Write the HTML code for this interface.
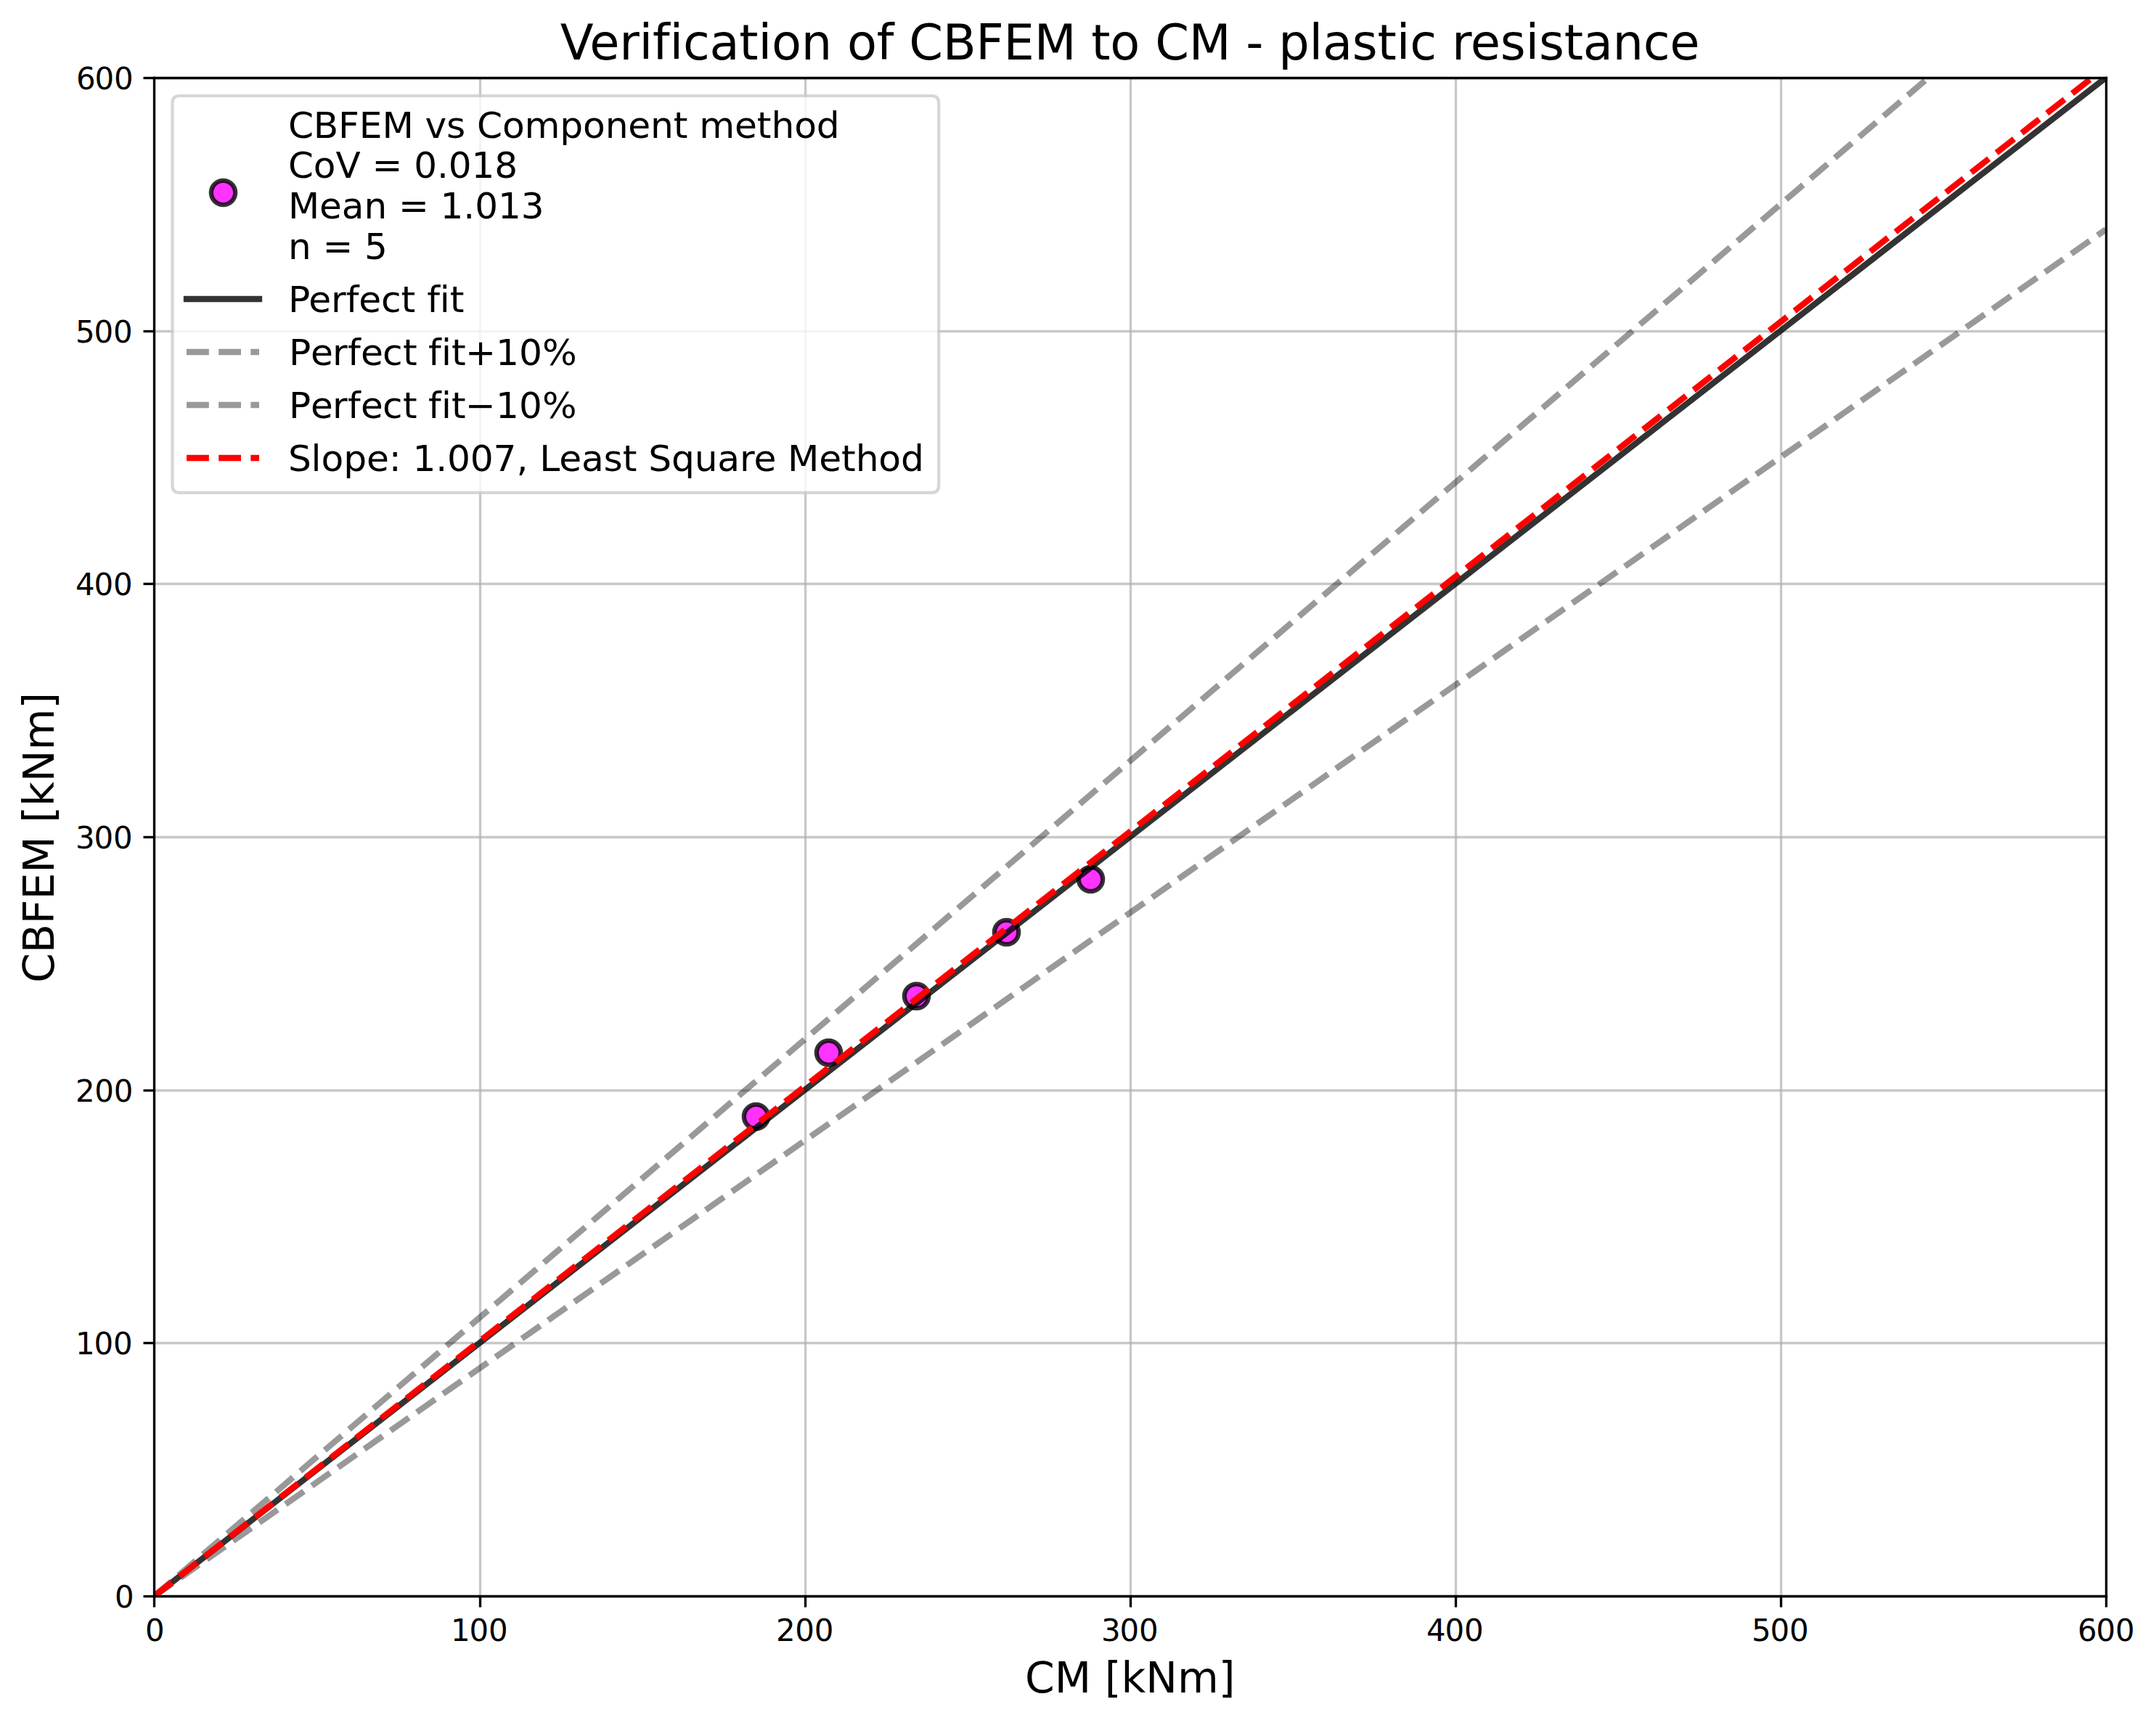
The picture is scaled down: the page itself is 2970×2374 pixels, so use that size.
<!DOCTYPE html>
<html lang="en">
<head>
<meta charset="utf-8">
<title>Verification of CBFEM to CM - plastic resistance</title>
<style>
html, body { margin: 0; padding: 0; background: #ffffff; }
body { width: 2970px; height: 2374px; overflow: hidden; font-family: "DejaVu Sans", "Liberation Sans", sans-serif; }
#chart { position: absolute; left: 0; top: 0; width: 2970px; height: 2374px; overflow: hidden; }
#chart svg { display: block; position: absolute; left: 0; top: 0; }
#chart text { fill: #000000; font-family: "DejaVu Sans", "Liberation Sans", sans-serif; text-anchor: start; white-space: pre; }
</style>
</head>
<body>
<div id="chart">
<svg width="2970.6875" height="2374.0000" viewBox="0 0 712.965 569.76" role="img" aria-label="Verification of CBFEM to CM - plastic resistance">
 <defs>
  <style>#chart svg *{stroke-linejoin: round; stroke-linecap: butt}</style>
 </defs>
 <g id="figure_1">
  <g id="patch_1">
   <path d="M -0 569.76 L 712.965 569.76 L 712.965 0 L -0 0 z
" style="fill: #ffffff"/>
  </g>
  <g id="axes_1">
   <g id="patch_2">
    <path d="M 50.99 527.8 L 696.225 527.8 L 696.225 25.68 L 50.99 25.68 z
" style="fill: #ffffff"/>
   </g>
   <g id="PathCollection_1">
    <defs>
     <path id="mae54f3001f" d="M 0 4 C 1.060812 4 2.078319 3.578535 2.828427 2.828427 C 3.578535 2.078319 4 1.060812 4 0 C 4 -1.060812 3.578535 -2.078319 2.828427 -2.828427 C 2.078319 -3.578535 1.060812 -4 0 -4 C -1.060812 -4 -2.078319 -3.578535 -2.828427 -2.828427 C -3.578535 -2.078319 -4 -1.060812 -4 0 C -4 1.060812 -3.578535 2.078319 -2.828427 2.828427 C -2.078319 3.578535 -1.060812 4 0 4 z
" style="stroke: #000000; stroke-opacity: 0.8; stroke-width: 1.5"/>
    </defs>
    <g clip-path="url(#p0415f621cc)">
     <use href="#mae54f3001f" x="249.96" y="369.24" style="fill: #ff00ff; fill-opacity: 0.8; stroke: #000000; stroke-opacity: 0.8; stroke-width: 1.5"/>
     <use href="#mae54f3001f" x="273.96" y="348.12" style="fill: #ff00ff; fill-opacity: 0.8; stroke: #000000; stroke-opacity: 0.8; stroke-width: 1.5"/>
     <use href="#mae54f3001f" x="303" y="329.4" style="fill: #ff00ff; fill-opacity: 0.8; stroke: #000000; stroke-opacity: 0.8; stroke-width: 1.5"/>
     <use href="#mae54f3001f" x="332.76" y="308.28" style="fill: #ff00ff; fill-opacity: 0.8; stroke: #000000; stroke-opacity: 0.8; stroke-width: 1.5"/>
     <use href="#mae54f3001f" x="360.6" y="290.76" style="fill: #ff00ff; fill-opacity: 0.8; stroke: #000000; stroke-opacity: 0.8; stroke-width: 1.5"/>
    </g>
   </g>
   <g id="matplotlib.axis_1">
    <g id="xtick_1">
     <g id="line2d_1">
      <path d="M 51 527.88 L 51 25.8" clip-path="url(#p0415f621cc)" style="fill: none; stroke: #b0b0b0; stroke-opacity: 0.7; stroke-width: 0.8; stroke-linecap: square"/>
     </g>
     <g id="line2d_2">
      <defs>
       <path id="m1504cfccaf" d="M 0 0 L 0 3.6" style="stroke: #000000; stroke-width: 0.8"/>
      </defs>
      <g>
       <use href="#m1504cfccaf" x="51" y="527.88" style="stroke: #000000; stroke-width: 0.8"/>
      </g>
     </g>
     <g id="text_1">
      <text style="font-size: 10.05px" x="47.99" y="542.72">0</text>
     </g>
    </g>
    <g id="xtick_2">
     <g id="line2d_3">
      <path d="M 158.76 527.88 L 158.76 25.8" clip-path="url(#p0415f621cc)" style="fill: none; stroke: #b0b0b0; stroke-opacity: 0.7; stroke-width: 0.8; stroke-linecap: square"/>
     </g>
     <g id="line2d_4">
      <g>
       <use href="#m1504cfccaf" x="158.76" y="527.88" style="stroke: #000000; stroke-width: 0.8"/>
      </g>
     </g>
     <g id="text_2">
      <text style="font-size: 10.05px" x="149.0492 155.1692 161.5292" y="542.72">100</text>
     </g>
    </g>
    <g id="xtick_3">
     <g id="line2d_5">
      <path d="M 266.28 527.88 L 266.28 25.8" clip-path="url(#p0415f621cc)" style="fill: none; stroke: #b0b0b0; stroke-opacity: 0.7; stroke-width: 0.8; stroke-linecap: square"/>
     </g>
     <g id="line2d_6">
      <g>
       <use href="#m1504cfccaf" x="266.28" y="527.88" style="stroke: #000000; stroke-width: 0.8"/>
      </g>
     </g>
     <g id="text_3">
      <text style="font-size: 10.05px" x="256.5433 262.8733 269.2333" y="542.72">200</text>
     </g>
    </g>
    <g id="xtick_4">
     <g id="line2d_7">
      <path d="M 373.8 527.88 L 373.8 25.8" clip-path="url(#p0415f621cc)" style="fill: none; stroke: #b0b0b0; stroke-opacity: 0.7; stroke-width: 0.8; stroke-linecap: square"/>
     </g>
     <g id="line2d_8">
      <g>
       <use href="#m1504cfccaf" x="373.8" y="527.88" style="stroke: #000000; stroke-width: 0.8"/>
      </g>
     </g>
     <g id="text_4">
      <text style="font-size: 10.0495px" x="364.0525 370.2025 376.5625" y="542.72">300</text>
     </g>
    </g>
    <g id="xtick_5">
     <g id="line2d_9">
      <path d="M 481.32 527.88 L 481.32 25.8" clip-path="url(#p0415f621cc)" style="fill: none; stroke: #b0b0b0; stroke-opacity: 0.7; stroke-width: 0.8; stroke-linecap: square"/>
     </g>
     <g id="line2d_10">
      <g>
       <use href="#m1504cfccaf" x="481.32" y="527.88" style="stroke: #000000; stroke-width: 0.8"/>
      </g>
     </g>
     <g id="text_5">
      <text style="font-size: 10.05px" x="471.6067 477.7267 484.0867" y="542.72">400</text>
     </g>
    </g>
    <g id="xtick_6">
     <g id="line2d_11">
      <path d="M 588.84 527.88 L 588.84 25.8" clip-path="url(#p0415f621cc)" style="fill: none; stroke: #b0b0b0; stroke-opacity: 0.7; stroke-width: 0.8; stroke-linecap: square"/>
     </g>
     <g id="line2d_12">
      <g>
       <use href="#m1504cfccaf" x="588.84" y="527.88" style="stroke: #000000; stroke-width: 0.8"/>
      </g>
     </g>
     <g id="text_6">
      <text style="font-size: 10.05px" x="579.1458 585.2658 591.6258" y="542.72">500</text>
     </g>
    </g>
    <g id="xtick_7">
     <g id="line2d_13">
      <path d="M 696.36 527.88 L 696.36 25.8" clip-path="url(#p0415f621cc)" style="fill: none; stroke: #b0b0b0; stroke-opacity: 0.7; stroke-width: 0.8; stroke-linecap: square"/>
     </g>
     <g id="line2d_14">
      <g>
       <use href="#m1504cfccaf" x="696.36" y="527.88" style="stroke: #000000; stroke-width: 0.8"/>
      </g>
     </g>
     <g id="text_7">
      <text style="font-size: 10.05px" x="686.865 692.985 699.345" y="542.72">600</text>
     </g>
    </g>
    <g id="text_8">
     <text style="font-size: 14px" x="338.8825 348.6625 360.7825 365.2225 370.6825 378.7825 389.2525 402.8725" y="559.68">CM [kNm]</text>
    </g>
   </g>
   <g id="matplotlib.axis_2">
    <g id="ytick_1">
     <g id="line2d_15">
      <path d="M 51 527.88 L 696.36 527.88" clip-path="url(#p0415f621cc)" style="fill: none; stroke: #b0b0b0; stroke-opacity: 0.7; stroke-width: 0.8; stroke-linecap: square"/>
     </g>
     <g id="line2d_16">
      <defs>
       <path id="m5d545ce8f8" d="M 0 0 L -3.6 0" style="stroke: #000000; stroke-width: 0.8"/>
      </defs>
      <g>
       <use href="#m5d545ce8f8" x="51" y="527.88" style="stroke: #000000; stroke-width: 0.8"/>
      </g>
     </g>
     <g id="text_9">
      <text style="font-size: 10.05px" x="37.93" y="531.52">0</text>
     </g>
    </g>
    <g id="ytick_2">
     <g id="line2d_17">
      <path d="M 51 444.12 L 696.36 444.12" clip-path="url(#p0415f621cc)" style="fill: none; stroke: #b0b0b0; stroke-opacity: 0.7; stroke-width: 0.8; stroke-linecap: square"/>
     </g>
     <g id="line2d_18">
      <g>
       <use href="#m5d545ce8f8" x="51" y="444.12" style="stroke: #000000; stroke-width: 0.8"/>
      </g>
     </g>
     <g id="text_10">
      <text style="font-size: 10.05px" x="24.97 31.09 37.45" y="447.8333">100</text>
     </g>
    </g>
    <g id="ytick_3">
     <g id="line2d_19">
      <path d="M 51 360.6 L 696.36 360.6" clip-path="url(#p0415f621cc)" style="fill: none; stroke: #b0b0b0; stroke-opacity: 0.7; stroke-width: 0.8; stroke-linecap: square"/>
     </g>
     <g id="line2d_20">
      <g>
       <use href="#m5d545ce8f8" x="51" y="360.6" style="stroke: #000000; stroke-width: 0.8"/>
      </g>
     </g>
     <g id="text_11">
      <text style="font-size: 10.05px" x="24.94 31.27 37.63" y="364.3867">200</text>
     </g>
    </g>
    <g id="ytick_4">
     <g id="line2d_21">
      <path d="M 51 276.84 L 696.36 276.84" clip-path="url(#p0415f621cc)" style="fill: none; stroke: #b0b0b0; stroke-opacity: 0.7; stroke-width: 0.8; stroke-linecap: square"/>
     </g>
     <g id="line2d_22">
      <g>
       <use href="#m5d545ce8f8" x="51" y="276.84" style="stroke: #000000; stroke-width: 0.8"/>
      </g>
     </g>
     <g id="text_12">
      <text style="font-size: 10.0495px" x="24.94 31.09 37.45" y="280.46">300</text>
     </g>
    </g>
    <g id="ytick_5">
     <g id="line2d_23">
      <path d="M 51 193.08 L 696.36 193.08" clip-path="url(#p0415f621cc)" style="fill: none; stroke: #b0b0b0; stroke-opacity: 0.7; stroke-width: 0.8; stroke-linecap: square"/>
     </g>
     <g id="line2d_24">
      <g>
       <use href="#m5d545ce8f8" x="51" y="193.08" style="stroke: #000000; stroke-width: 0.8"/>
      </g>
     </g>
     <g id="text_13">
      <text style="font-size: 10.05px" x="24.97 31.09 37.45" y="196.7733">400</text>
     </g>
    </g>
    <g id="ytick_6">
     <g id="line2d_25">
      <path d="M 51 109.56 L 696.36 109.56" clip-path="url(#p0415f621cc)" style="fill: none; stroke: #b0b0b0; stroke-opacity: 0.7; stroke-width: 0.8; stroke-linecap: square"/>
     </g>
     <g id="line2d_26">
      <g>
       <use href="#m5d545ce8f8" x="51" y="109.56" style="stroke: #000000; stroke-width: 0.8"/>
      </g>
     </g>
     <g id="text_14">
      <text style="font-size: 10.05px" x="24.97 31.09 37.45" y="113.3267">500</text>
     </g>
    </g>
    <g id="ytick_7">
     <g id="line2d_27">
      <path d="M 51 25.8 L 696.36 25.8" clip-path="url(#p0415f621cc)" style="fill: none; stroke: #b0b0b0; stroke-opacity: 0.7; stroke-width: 0.8; stroke-linecap: square"/>
     </g>
     <g id="line2d_28">
      <g>
       <use href="#m5d545ce8f8" x="51" y="25.8" style="stroke: #000000; stroke-width: 0.8"/>
      </g>
     </g>
     <g id="text_15">
      <text style="font-size: 10.05px" x="25.21 31.33 37.69" y="29.64">600</text>
     </g>
    </g>
    <g id="text_16">
     <text style="font-size: 14.07px" transform="translate(17.7 324.98) rotate(-90)" x="0 9.78 19.41 27.48 36.33 48.45 52.89 58.35 66.45 76.92 90.54" y="0">CBFEM [kNm]</text>
    </g>
   </g>
   <g id="line2d_29">
    <path d="M 50.99 527.8 L 696.225 25.68 " clip-path="url(#p0415f621cc)" style="fill: none; stroke: #000000; stroke-opacity: 0.8; stroke-width: 2; stroke-linecap: square"/>
   </g>
   <g id="line2d_30">
    <path d="M 50.99 527.8 L 668.734885 -1 " clip-path="url(#p0415f621cc)" style="fill: none; stroke-dasharray: 7.4,3.2; stroke-dashoffset: 0; stroke: #000000; stroke-opacity: 0.4; stroke-width: 2"/>
   </g>
   <g id="line2d_31">
    <path d="M 50.99 527.8 L 696.225 75.892 " clip-path="url(#p0415f621cc)" style="fill: none; stroke-dasharray: 7.4,3.2; stroke-dashoffset: 0; stroke: #000000; stroke-opacity: 0.4; stroke-width: 2"/>
   </g>
   <g id="line2d_32">
    <path d="M 50.99 527.8 L 696.225 22.16516 " clip-path="url(#p0415f621cc)" style="fill: none; stroke-dasharray: 7.4,3.2; stroke-dashoffset: 0; stroke: #ff0000; stroke-width: 2"/>
   </g>
   <g id="patch_3">
    <path d="M 51 527.88 L 51 25.8" style="fill: none; stroke: #000000; stroke-width: 0.8; stroke-linejoin: miter; stroke-linecap: square"/>
   </g>
   <g id="patch_4">
    <path d="M 696.36 527.88 L 696.36 25.8" style="fill: none; stroke: #000000; stroke-width: 0.8; stroke-linejoin: miter; stroke-linecap: square"/>
   </g>
   <g id="patch_5">
    <path d="M 51 527.88 L 696.36 527.88" style="fill: none; stroke: #000000; stroke-width: 0.8; stroke-linejoin: miter; stroke-linecap: square"/>
   </g>
   <g id="patch_6">
    <path d="M 51 25.8 L 696.36 25.8" style="fill: none; stroke: #000000; stroke-width: 0.8; stroke-linejoin: miter; stroke-linecap: square"/>
   </g>
   <g id="text_17">
    <text style="font-size: 16.08px" x="185.2225 194.9425 204.7525 211.3225 215.7625 221.3725 225.8125 234.6025 244.3825 250.6525 255.0925 264.8725 274.9825 280.0525 289.8325 295.4425 300.5125 311.6725 322.6225 331.8025 341.9125 355.6825 360.7525 367.0225 376.8025 381.8725 393.0325 406.8025 411.8725 417.6325 422.7025 432.8425 437.2825 447.0625 455.4025 461.6725 466.1125 474.9025 479.9725 486.1825 495.9925 504.3325 508.7725 517.1125 523.3825 533.1625 543.2725 552.0625" y="19.68">Verification of CBFEM to CM - plastic resistance</text>
   </g>
   <g id="legend_1">
    <g id="patch_7">
     <path d="M 59.39 162.912 L 307.97 162.912 Q 310.37 162.912 310.37 160.512 L 310.37 34.08 Q 310.37 31.68 307.97 31.68 L 59.39 31.68 Q 56.99 31.68 56.99 34.08 L 56.99 160.512 Q 56.99 162.912 59.39 162.912 z
" style="fill: #ffffff; opacity: 0.8; stroke: #cccccc; stroke-linejoin: miter"/>
    </g>
    <g id="PathCollection_2">
     <g>
      <use href="#mae54f3001f" x="73.8" y="63.72" style="fill: #ff00ff; fill-opacity: 0.8; stroke: #000000; stroke-opacity: 0.8; stroke-width: 1.5"/>
     </g>
    </g>
    <g id="text_18">
     <text style="font-size: 12.06px" x="95.27 103.64 111.86 118.76 126.35 136.7 140.51 147.62 153.89 157.7 166.07 173.42 185.12 192.74 200.09 207.68 215.06 222.65 227.39 231.2 242.9 250.28 255.02 262.61 269.96" y="45.6">CBFEM vs Component method</text>
     <text style="font-size: 12px" x="95.27 103.64 110.99 119.21 123.02 133.04 136.85 144.47 148.28 155.9 163.52" y="58.704">CoV = 0.018</text>
     <text style="font-size: 12px" x="95.27 105.62 113 120.35 127.94 131.75 141.77 145.58 153.2 157.01 164.63 172.25" y="72.288">Mean = 1.013</text>
     <text style="font-size: 12px" x="95.27 102.86 106.67 116.69 120.5" y="85.632">n = 5</text>
    </g>
    <g id="line2d_33">
     <path d="M 61.68 98.88 L 85.68 98.88" style="fill: none; stroke: #000000; stroke-opacity: 0.8; stroke-width: 2; stroke-linecap: square"/>
    </g>
    <g id="text_19">
     <text style="font-size: 12.06px" x="95.27 102.08 109.46 114.41 118.64 126.02 132.62 137.36 141.17 145.4 148.76" y="103.152">Perfect fit</text>
    </g>
    <g id="line2d_34">
     <path d="M 61.68 116.4 L 85.68 116.4" style="fill: none; stroke-dasharray: 7.4,3.2; stroke-dashoffset: 0; stroke: #000000; stroke-opacity: 0.4; stroke-width: 2"/>
    </g>
    <g id="text_20">
     <text style="font-size: 12.06px" x="95.51 102.71 109.91 114.95 119.27 126.47 133.19 137.75 141.59 145.91 149.27 153.83 163.91 171.59 179.27" y="120.757">Perfect fit+10%</text>
    </g>
    <g id="line2d_35">
     <path d="M 61.68 133.92 L 85.68 133.92" style="fill: none; stroke-dasharray: 7.4,3.2; stroke-dashoffset: 0; stroke: #000000; stroke-opacity: 0.4; stroke-width: 2"/>
    </g>
    <g id="text_21">
     <text style="font-size: 12px" x="95.51 102.71 109.91 114.95 119.27 126.47 133.19 137.75 141.59 145.91 149.27 153.83 163.91 171.59 179.27" y="138.277">Perfect fit−10%</text>
    </g>
    <g id="line2d_36">
     <path d="M 61.68 151.44 L 85.68 151.44" style="fill: none; stroke-dasharray: 7.4,3.2; stroke-dashoffset: 0; stroke: #ff0000; stroke-width: 2"/>
    </g>
    <g id="text_22">
     <text style="font-size: 12.06px" x="95.27 102.86 106.22 113.57 121.19 128.57 132.62 136.43 144.05 147.86 155.48 163.1 170.75 174.56 178.37 184.85 192.23 199.58 205.85 210.59 214.4 221.99 229.61 237.2 244.55 249.23 256.61 260.42 270.77 278.15 282.89 290.48 297.83" y="155.712">Slope: 1.007, Least Square Method</text>
    </g>
   </g>
  </g>
 </g>
 <defs>
  <clipPath id="p0415f621cc">
   <rect x="50.99" y="25.68" width="645.235" height="502.12"/>
  </clipPath>
 </defs>
</svg>

</div>
</body>
</html>
